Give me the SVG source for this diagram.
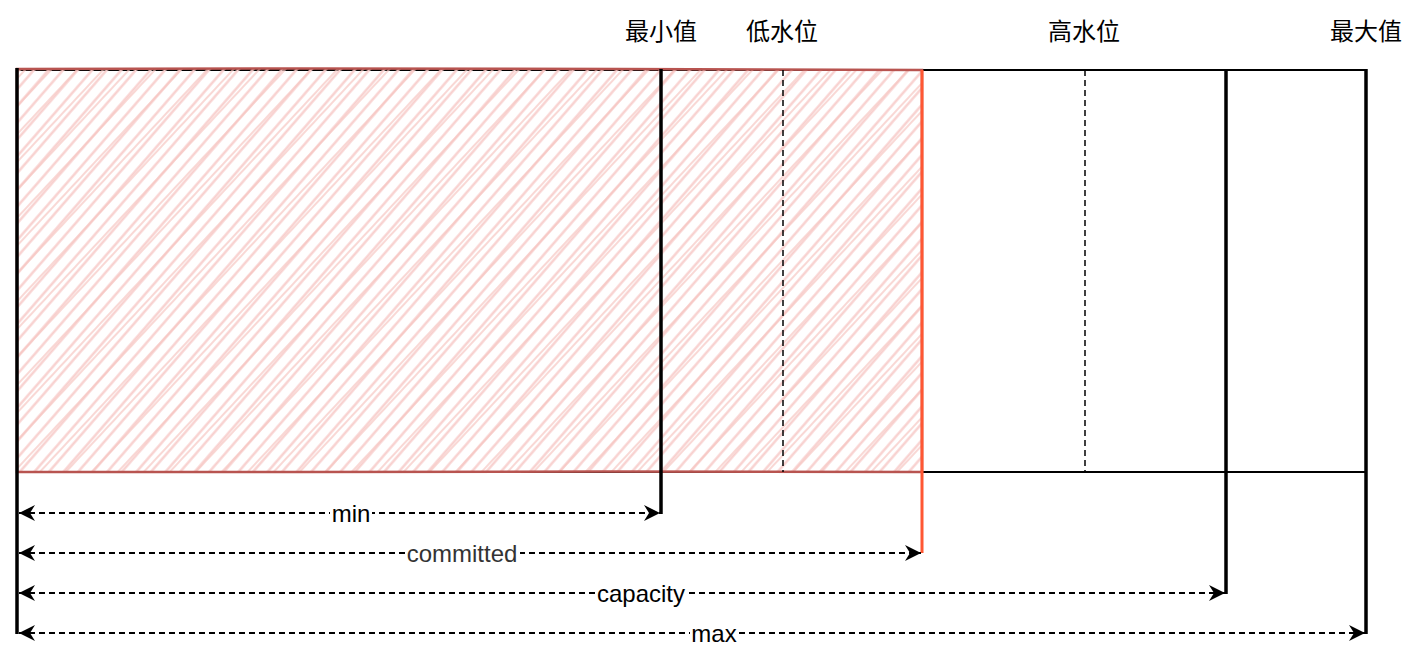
<svg xmlns="http://www.w3.org/2000/svg" width="1420" height="656" viewBox="0 0 1420 656">
<style>
.zh{font-family:"Liberation Sans","Noto Sans CJK SC",sans-serif;font-size:24px;fill:#000;text-anchor:middle}
.lb{font-family:"Liberation Sans",Arial,sans-serif;font-size:24px;fill:#000;text-anchor:middle}
.thick{stroke:#000;stroke-width:3.5;fill:none}
.thin{stroke:#000;stroke-width:2;fill:none}
.vdash{stroke:#000;stroke-width:1.5;stroke-dasharray:6 4;fill:none}
.dim{stroke:#000;stroke-width:2;stroke-dasharray:6 4;fill:none;marker-start:url(#al);marker-end:url(#ar)}
</style>
<defs>
<pattern id="h1" patternUnits="userSpaceOnUse" width="11" height="20" patternTransform="rotate(41)">
<line x1="5.5" y1="0" x2="5.5" y2="20" stroke="#f8cecc" stroke-width="2.3"/>
</pattern>
<pattern id="h2" patternUnits="userSpaceOnUse" width="19" height="20" patternTransform="rotate(43)">
<line x1="9" y1="0" x2="9" y2="20" stroke="#f6c4c0" stroke-width="1.8" opacity="0.75"/>
</pattern>
<marker id="ar" markerWidth="18" markerHeight="18" refX="17" refY="9" orient="auto" markerUnits="userSpaceOnUse">
<path d="M1,1 L17,9 L1,17 L6,9 Z" fill="#000"/>
</marker>
<marker id="al" markerWidth="18" markerHeight="18" refX="1" refY="9" orient="auto" markerUnits="userSpaceOnUse">
<path d="M17,1 L1,9 L17,17 L12,9 Z" fill="#000"/>
</marker>
</defs>
<rect width="1420" height="656" fill="#fff"/>

<g id="outer">
<rect x="17" y="70" width="1349" height="402" class="thin"/>
</g>
<g id="committed-area">
<rect x="17" y="69" width="905" height="403" fill="url(#h1)"/>
<rect x="17" y="69" width="905" height="403" fill="url(#h2)"/>
<path d="M17,69 L300,68.5 L620,69 L922,70 L922,472 L600,471.5 L300,472 L17,472 Z" fill="none" stroke="#b85450" stroke-width="2.5"/>
</g>

<g id="low-water">
<line x1="783" y1="70" x2="783" y2="472" class="vdash"/>
<text x="782" y="40" class="zh">低水位</text>
</g>
<g id="high-water">
<line x1="1085" y1="70" x2="1085" y2="472" class="vdash"/>
<text x="1084" y="40" class="zh">高水位</text>
</g>
<g id="min-line">
<line x1="661" y1="69" x2="661" y2="514" class="thick"/>
<text x="661" y="40" class="zh">最小值</text>
</g>
<g id="committed-line">
<line x1="922" y1="70" x2="922" y2="553" stroke="#ff5733" stroke-width="3"/>
</g>
<g id="capacity-line">
<line x1="1226" y1="70" x2="1226" y2="594" class="thick"/>
</g>
<g id="max-line">
<line x1="1366" y1="69" x2="1366" y2="634" class="thick"/>
<text x="1366" y="40" class="zh">最大值</text>
</g>
<g id="origin-line">
<line x1="17" y1="68" x2="17" y2="634" class="thick"/>
</g>

<g id="connectors">
<line x1="19" y1="513" x2="660" y2="513" class="dim"/>
<line x1="19" y1="553" x2="921" y2="553" class="dim"/>
<line x1="19" y1="593" x2="1225" y2="593" class="dim"/>
<line x1="19" y1="633" x2="1365" y2="633" class="dim"/>
<rect x="330" y="502" width="42" height="22" fill="#fff"/>
<text x="351" y="521.5" class="lb">min</text>
<rect x="405" y="542" width="115" height="22" fill="#fff"/>
<text x="462" y="561.5" class="lb" style="fill:#333">committed</text>
<rect x="595" y="582" width="92" height="22" fill="#fff"/>
<text x="641" y="601.5" class="lb">capacity</text>
<rect x="690" y="622" width="49" height="22" fill="#fff"/>
<text x="714" y="641.5" class="lb">max</text>
</g>
</svg>
